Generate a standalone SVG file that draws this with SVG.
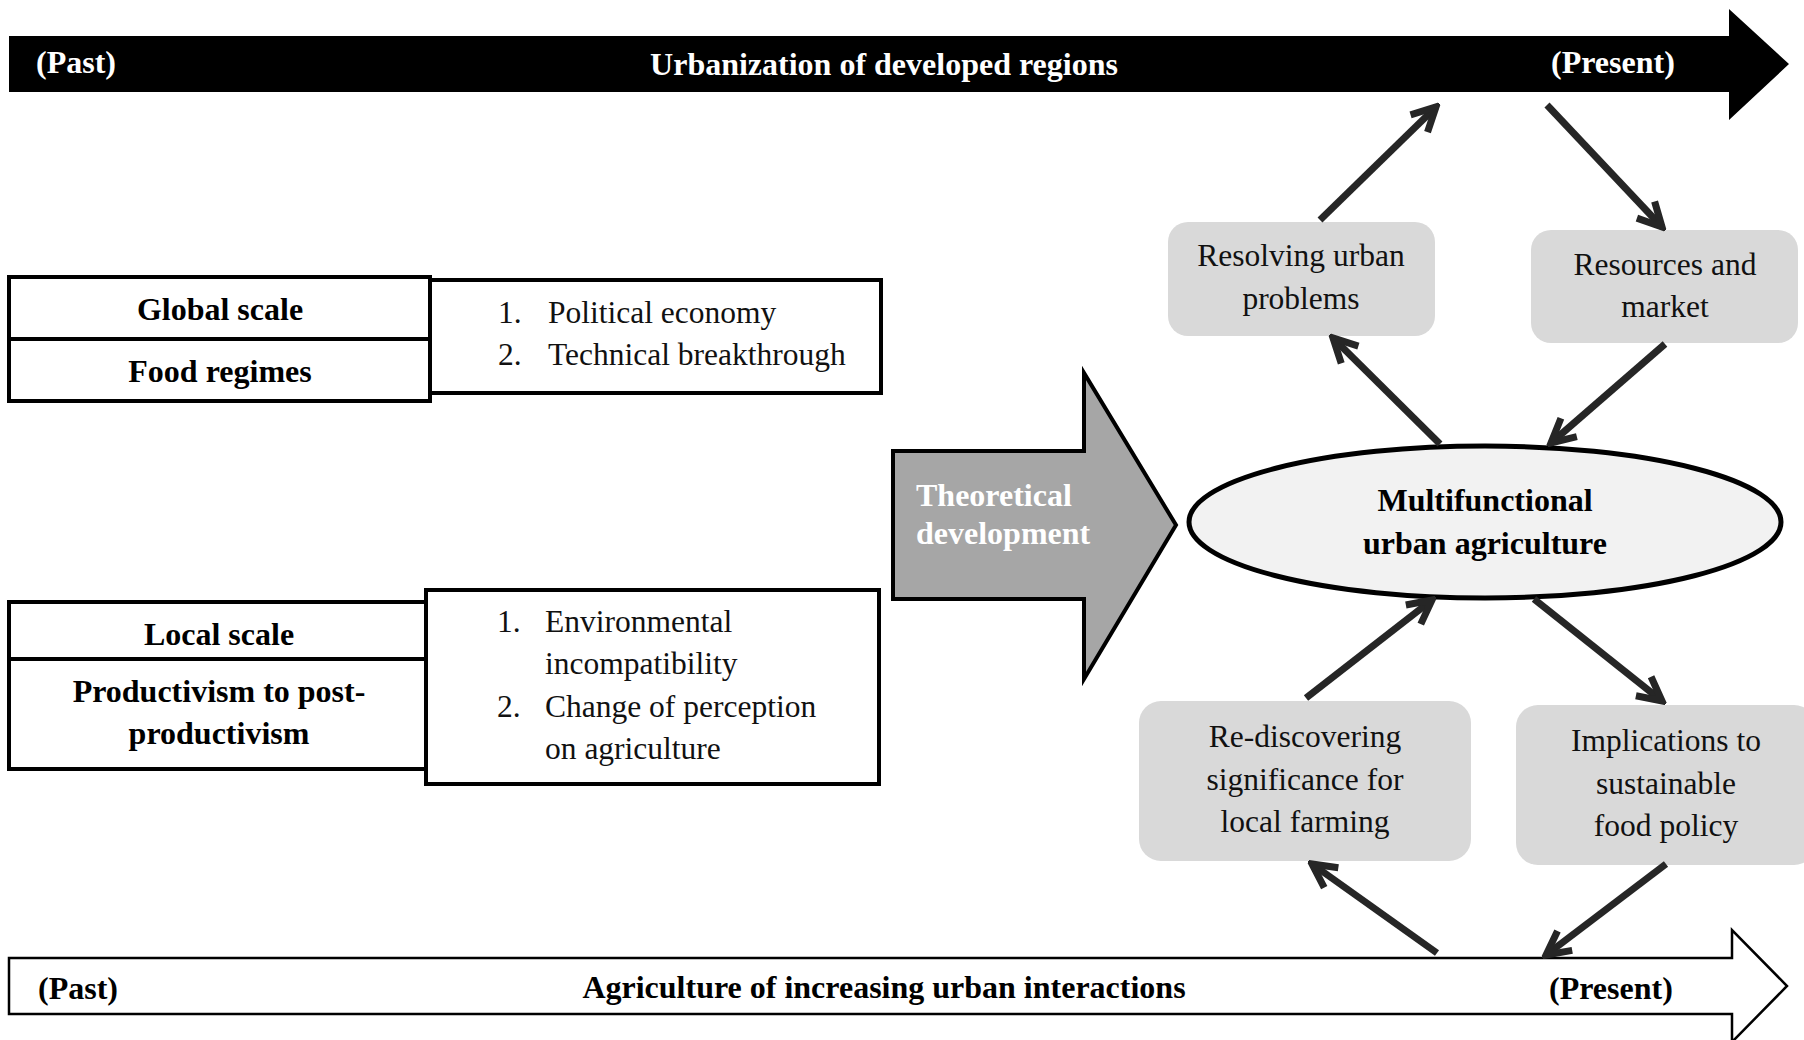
<svg xmlns="http://www.w3.org/2000/svg" width="1804" height="1040" viewBox="0 0 1804 1040">
  <defs>
    <style>
      .b { font-family: "Liberation Serif", "Times New Roman", serif; font-weight: bold; font-size: 32px; }
      .r { font-family: "Liberation Serif", "Times New Roman", serif; font-size: 31.5px; fill: #111; }
      .w { fill: #fff; }
      .mid { text-anchor: middle; }
      .frame { fill: #fff; stroke: #000; stroke-width: 4; }
      .soft { fill: #d9d9d9; }
      .link { stroke: #262626; stroke-width: 7; fill: none; marker-end: url(#head); }
    </style>
    <marker id="head" viewBox="0 0 10 10" refX="8.6" refY="5" markerUnits="userSpaceOnUse" markerWidth="32" markerHeight="32" orient="auto">
      <path d="M1.2,1.2 L8.6,5 L1.2,8.8" fill="none" stroke="#262626" stroke-width="2.2" stroke-linejoin="miter"/>
    </marker>
  </defs>

  <rect width="1804" height="1040" fill="#fff"/>

  <!-- timeline: urbanization -->
  <g id="timeline-urban">
    <path d="M9,36 L1729,36 L1729,9 L1789,64 L1729,120 L1729,92 L9,92 Z" fill="#000"/>
    <text class="b w" x="36" y="73">(Past)</text>
    <text class="b w mid" x="884" y="75">Urbanization of developed regions</text>
    <text class="b w" x="1551" y="73">(Present)</text>
  </g>

  <!-- timeline: agriculture -->
  <g id="timeline-agri">
    <path d="M9,958 L1732,958 L1732,930 L1787,986 L1732,1042 L1732,1014 L9,1014 Z" fill="#fff" stroke="#000" stroke-width="2.5"/>
    <text class="b" x="38" y="999">(Past)</text>
    <text class="b mid" x="884" y="998">Agriculture of increasing urban interactions</text>
    <text class="b" x="1549" y="999">(Present)</text>
  </g>

  <!-- global scale -->
  <g id="global-scale">
    <rect class="frame" x="9" y="277" width="421" height="62"/>
    <text class="b mid" x="220" y="320">Global scale</text>
  </g>
  <g id="food-regimes">
    <rect class="frame" x="9" y="339" width="421" height="62"/>
    <text class="b mid" x="220" y="382">Food regimes</text>
  </g>
  <g id="global-factors">
    <rect class="frame" x="430" y="280" width="451" height="113"/>
    <text class="r" x="498" y="323">1.</text>
    <text class="r" x="548" y="323">Political economy</text>
    <text class="r" x="498" y="365">2.</text>
    <text class="r" x="548" y="365">Technical breakthrough</text>
  </g>

  <!-- local scale -->
  <g id="local-scale">
    <rect class="frame" x="9" y="602" width="417" height="57"/>
    <text class="b mid" x="219" y="645">Local scale</text>
  </g>
  <g id="productivism">
    <rect class="frame" x="9" y="659" width="417" height="110"/>
    <text class="b mid" x="219" y="702">Productivism to post-</text>
    <text class="b mid" x="219" y="744">productivism</text>
  </g>
  <g id="local-factors">
    <rect class="frame" x="426" y="590" width="453" height="194"/>
    <text class="r" x="497" y="632">1.</text>
    <text class="r" x="545" y="632">Environmental</text>
    <text class="r" x="545" y="674">incompatibility</text>
    <text class="r" x="497" y="717">2.</text>
    <text class="r" x="545" y="717">Change of perception</text>
    <text class="r" x="545" y="759">on agriculture</text>
  </g>

  <!-- theoretical development block arrow -->
  <g id="theoretical-development">
    <path d="M893,451 L1084,451 L1084,373 L1176,525 L1084,679 L1084,599 L893,599 Z" fill="#a6a6a6" stroke="#000" stroke-width="4"/>
    <text class="b w" x="916" y="506">Theoretical</text>
    <text class="b w" x="916" y="544">development</text>
  </g>

  <!-- central concept -->
  <g id="multifunctional-ua">
    <ellipse cx="1485" cy="522" rx="296" ry="76" fill="#f2f2f2" stroke="#000" stroke-width="5"/>
    <text class="b mid" x="1485" y="511">Multifunctional</text>
    <text class="b mid" x="1485" y="554">urban agriculture</text>
  </g>

  <!-- outcome boxes -->
  <g id="resolving-urban-problems">
    <rect class="soft" x="1168" y="222" width="267" height="114" rx="20"/>
    <text class="r mid" x="1301" y="266">Resolving urban</text>
    <text class="r mid" x="1301" y="309">problems</text>
  </g>
  <g id="resources-market">
    <rect class="soft" x="1531" y="230" width="267" height="113" rx="20"/>
    <text class="r mid" x="1665" y="275">Resources and</text>
    <text class="r mid" x="1665" y="317">market</text>
  </g>
  <g id="rediscovering-local-farming">
    <rect class="soft" x="1139" y="701" width="332" height="160" rx="22"/>
    <text class="r mid" x="1305" y="747">Re-discovering</text>
    <text class="r mid" x="1305" y="790">significance for</text>
    <text class="r mid" x="1305" y="832">local farming</text>
  </g>
  <g id="sustainable-food-policy">
    <rect class="soft" x="1516" y="705" width="300" height="160" rx="22"/>
    <text class="r mid" x="1666" y="751">Implications to</text>
    <text class="r mid" x="1666" y="794">sustainable</text>
    <text class="r mid" x="1666" y="836">food policy</text>
  </g>

  <!-- connectors -->
  <g id="connectors">
    <line class="link" x1="1320" y1="220" x2="1436" y2="107"/>
    <line class="link" x1="1547" y1="105" x2="1662" y2="227"/>
    <line class="link" x1="1440" y1="444" x2="1333" y2="338"/>
    <line class="link" x1="1665" y1="344" x2="1551" y2="443"/>
    <line class="link" x1="1306" y1="698" x2="1432" y2="600"/>
    <line class="link" x1="1534" y1="599" x2="1662" y2="701"/>
    <line class="link" x1="1437" y1="953" x2="1312" y2="864"/>
    <line class="link" x1="1666" y1="864" x2="1546" y2="955"/>
  </g>
</svg>
